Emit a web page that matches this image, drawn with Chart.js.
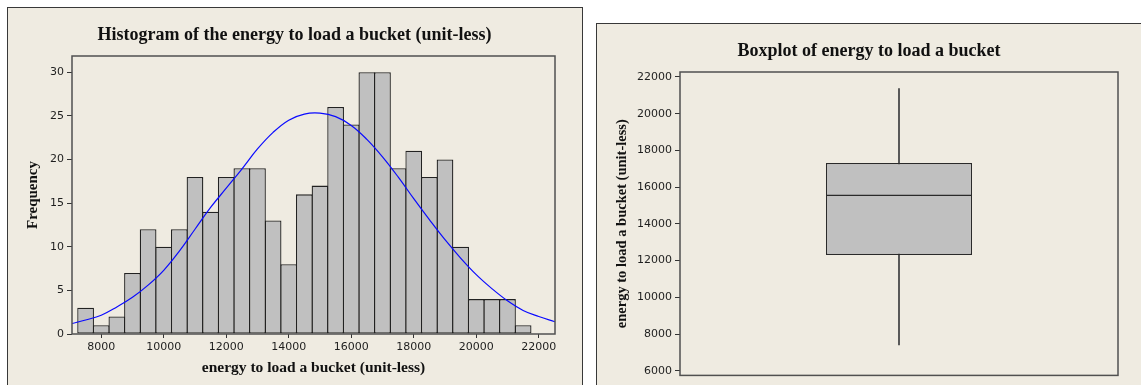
<!DOCTYPE html>
<html>
<head>
<meta charset="utf-8">
<title>Energy to load a bucket</title>
<script src="https://cdn.jsdelivr.net/npm/chart.js@4.4.1/dist/chart.umd.min.js"></script>
<style>
  html, body { margin: 0; padding: 0; background: #ffffff; width: 1141px; height: 385px; overflow: hidden; }
  .panel { position: absolute; box-sizing: border-box; background: #EFEBE1; border: 1px solid #383838; }
  #histPanel { left: 7px; top: 7px; width: 576px; height: 400px; }
  #boxPanel { left: 596px; top: 23px; width: 560px; height: 400px; }
  canvas { position: absolute; }
  #hist { left: 8px; top: 8px; }
  #box { left: 597px; top: 24px; }
</style>
</head>
<body>
<div id="histPanel" class="panel"></div>
<div id="boxPanel" class="panel"></div>
<canvas id="hist" width="573" height="377"></canvas>
<canvas id="box" width="544" height="361"></canvas>
<script>
// Histogram: bin centres (bins are 500 units wide) and counts per bin
const binCenters = [7500, 8000, 8500, 9000, 9500, 10000, 10500, 11000, 11500, 12000,
                    12500, 13000, 13500, 14000, 14500, 15000, 15500, 16000, 16500, 17000,
                    17500, 18000, 18500, 19000, 19500, 20000, 20500, 21000, 21500];
const binCounts = [3, 1, 2, 7, 12, 10, 12, 18, 14, 18,
                   19, 19, 13, 8, 16, 17, 26, 24, 30, 30,
                   19, 21, 18, 20, 10, 4, 4, 4, 1];

// Fitted normal curve, sampled along the x axis
const curveX = [7065, 7500, 8000, 8500, 9000, 9500, 10000, 10500, 11000, 11500,
                12000, 12500, 13000, 13500, 14000, 14500, 15000, 15500, 16000, 16500,
                17000, 17500, 18000, 18500, 19000, 19500, 20000, 20500, 21000, 21500,
                22000, 22520];
const curveY = [1.2, 1.6, 2.15, 3.1, 4.2, 5.6, 7.3, 9.5, 12.0, 14.5,
                16.7, 18.9, 21.2, 23.1, 24.5, 25.2, 25.3, 24.9, 23.9, 22.3,
                20.3, 18.0, 15.5, 13.1, 10.8, 8.7, 6.8, 5.2, 3.8, 2.7,
                2.0, 1.4];

const histXTicks = [8000, 10000, 12000, 14000, 16000, 18000, 20000, 22000];
const histYTicks = [0, 5, 10, 15, 20, 25, 30];

// Boxplot five-number summary
const boxWhiskers = [7403, 21366];   // lower and upper whisker ends
const boxQuartiles = [12311, 17310]; // Q1 and Q3
const boxMedian = 15553;
const boxYTicks = [6000, 8000, 10000, 12000, 14000, 16000, 18000, 20000, 22000];

const serifBold = { family: "'Liberation Serif', 'Times New Roman', serif", weight: 'bold' };
const tickFont = { family: "'DejaVu Sans', Tahoma, sans-serif", size: 11 };
const textColor = '#111111';
const tickColor = '#333333';
const tickLabelColor = '#1e1e1e';

// Outline around the plotting region
const plotFrame = {
  id: 'plotFrame',
  afterDatasetsDraw(chart, args, opts) {
    const { ctx, chartArea: a } = chart;
    ctx.save();
    ctx.strokeStyle = opts.color;
    ctx.lineWidth = opts.width;
    ctx.strokeRect(a.left, a.top, a.right - a.left, a.bottom - a.top);
    ctx.restore();
  }
};

// Median line across the box
const medianLine = {
  id: 'medianLine',
  afterDatasetsDraw(chart, args, opts) {
    const bar = chart.getDatasetMeta(1).data[0];
    if (!bar) return;
    const { ctx } = chart;
    const y = chart.scales.y.getPixelForValue(opts.value);
    const half = bar.width / 2;
    ctx.save();
    ctx.strokeStyle = opts.color;
    ctx.lineWidth = opts.width;
    ctx.beginPath();
    ctx.moveTo(bar.x - half, y);
    ctx.lineTo(bar.x + half, y);
    ctx.stroke();
    ctx.restore();
  }
};

const setTicks = values => scale => { scale.ticks = values.map(value => ({ value })); };

new Chart(document.getElementById('hist'), {
  type: 'bar',
  data: {
    datasets: [
      {
        type: 'line',
        data: curveX.map((x, i) => ({ x, y: curveY[i] })),
        borderColor: '#0a0aff',
        borderWidth: 1.2,
        pointRadius: 0,
        tension: 0.4,
        fill: false,
        order: 0
      },
      {
        type: 'bar',
        data: binCenters.map((x, i) => ({ x, y: binCounts[i] })),
        backgroundColor: '#C0C0C0',
        borderColor: '#222222',
        borderWidth: 1.3,
        borderSkipped: false,
        barPercentage: 1.07,
        categoryPercentage: 1,
        inflateAmount: 0,
        order: 1
      }
    ]
  },
  options: {
    responsive: false,
    animation: false,
    events: [],
    layout: { padding: { left: 26, right: 26, top: 0, bottom: 0 } },
    plugins: {
      legend: { display: false },
      tooltip: { enabled: false },
      title: {
        display: true,
        text: 'Histogram of the energy to load a bucket (unit-less)',
        color: textColor,
        font: { ...serifBold, size: 18 },
        padding: { top: 16.4, bottom: 10 }
      },
      plotFrame: { color: '#505050', width: 1.5 }
    },
    scales: {
      x: {
        type: 'linear',
        min: 7065,
        max: 22520,
        offset: false,
        afterBuildTicks: setTicks(histXTicks),
        afterFit: s => { s.height = 51; },
        grid: { drawOnChartArea: false, drawTicks: true, tickLength: 4, color: tickColor, offset: false },
        border: { display: false },
        ticks: { font: tickFont, color: tickLabelColor, padding: 3, maxRotation: 0, autoSkip: false, callback: v => String(v) },
        title: {
          display: true,
          text: 'energy to load a bucket (unit-less)',
          color: textColor,
          font: { ...serifBold, size: 15.5 },
          padding: { top: 0, bottom: 7.4 }
        }
      },
      y: {
        min: 0,
        max: 31.85,
        afterBuildTicks: setTicks(histYTicks),
        afterFit: s => { s.width = 38; },
        grid: { drawOnChartArea: false, drawTicks: true, tickLength: 5, color: tickColor },
        border: { display: false },
        ticks: { font: tickFont, color: tickLabelColor, padding: 3, callback: v => String(v) },
        title: {
          display: true,
          text: 'Frequency',
          color: textColor,
          font: { ...serifBold, size: 15 },
          padding: { top: -9.7, bottom: 0 }
        }
      }
    }
  },
  plugins: [plotFrame]
});

new Chart(document.getElementById('box'), {
  type: 'bar',
  data: {
    labels: [''],
    datasets: [
      {
        data: [boxWhiskers],
        backgroundColor: '#555555',
        borderWidth: 0,
        barThickness: 1.3,
        grouped: false,
        order: 2
      },
      {
        data: [boxQuartiles],
        backgroundColor: '#C0C0C0',
        borderColor: '#2a2a2a',
        borderWidth: 1.2,
        borderSkipped: false,
        barPercentage: 1 / 3,
        categoryPercentage: 1,
        inflateAmount: 0,
        grouped: false,
        order: 1
      }
    ]
  },
  options: {
    responsive: false,
    animation: false,
    events: [],
    layout: { padding: { left: 23, right: 23, top: 0, bottom: 9 } },
    plugins: {
      legend: { display: false },
      tooltip: { enabled: false },
      title: {
        display: true,
        text: 'Boxplot of energy to load a bucket',
        color: textColor,
        font: { ...serifBold, size: 18 },
        padding: { top: 16.9, bottom: 9.5 }
      },
      plotFrame: { color: '#505050', width: 1.5 },
      medianLine: { value: boxMedian, color: '#2a2a2a', width: 1.2 }
    },
    scales: {
      x: { display: false },
      y: {
        min: 5750,
        max: 22270,
        afterBuildTicks: setTicks(boxYTicks),
        afterFit: s => { s.width = 60; },
        grid: { drawOnChartArea: false, drawTicks: true, tickLength: 5, color: tickColor },
        border: { display: false },
        ticks: { font: tickFont, color: tickLabelColor, padding: 3, callback: v => String(v) },
        title: {
          display: true,
          text: 'energy to load a bucket (unit-less)',
          color: textColor,
          font: { ...serifBold, size: 14.5 },
          padding: { top: -6, bottom: 0 }
        }
      }
    }
  },
  plugins: [plotFrame, medianLine]
});
</script>
</body>
</html>
